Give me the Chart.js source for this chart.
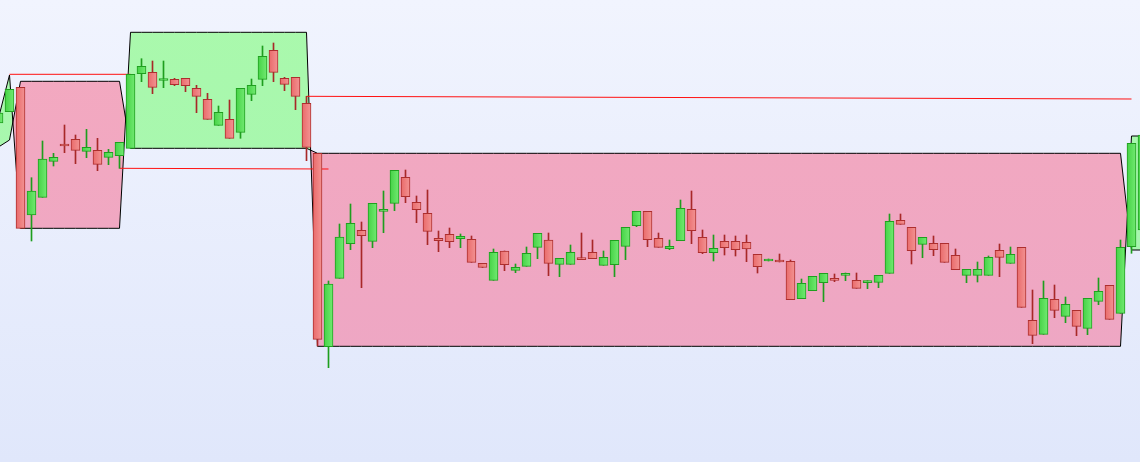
<!DOCTYPE html>
<html>
<head>
<meta charset="utf-8">
<script src="https://cdn.jsdelivr.net/npm/chart.js@4.4.1/dist/chart.umd.min.js"></script>
<style>
  html, body { margin: 0; padding: 0; }
  body {
    width: 1140px; height: 462px; overflow: hidden;
    background: linear-gradient(to bottom, #f1f4fe 0%, #e0e7fb 100%);
  }
  #wrap { position: relative; width: 1140px; height: 462px; }
</style>
</head>
<body>
<div id="wrap"><canvas id="candles" width="1140" height="462"></canvas></div>
<script>
// first candle index shown (partly cut at the left edge)
const kFirst = -1

// OHLC, one entry per candle from k = -1 to k = 103
const open = [
  339, 350.3, 374.7, 247, 264.7, 300.7, 318, 322.7, 310.7, 311.7,
  304.7, 306.3, 313.7, 388.3, 389.7, 381.5, 382.7, 383.7, 373.7, 362.7,
  336.7, 342.7, 329.7, 367.7, 382.7, 411.7, 383.7, 384.7, 358.7, 308.7,
  115.3, 183.7, 218.3, 231.7, 220.7, 250.7, 258.7, 284.7, 259.7, 248.7,
  223.7, 227.7, 223.3, 222.7, 198.7, 181.7, 211, 191.7, 195.7, 214.7,
  222, 197.7, 197.7, 204.3, 209.7, 196.7, 197.3, 215.7, 236.3, 250.7,
  223.7, 213.3, 221.3, 252.7, 224.7, 209.3, 220.7, 220.7, 219.7, 207.7,
  201, 202, 200.7, 163.3, 171.3, 179.3, 183.7, 186.7, 181.7, 179.3,
  179.7, 188.7, 241.7, 234.7, 217.7, 218.7, 218.7, 206.7, 186.7, 186.7,
  186.7, 211.7, 198.7, 214.7, 141.7, 127.7, 162.7, 145.7, 151.7, 133.7,
  160.7, 176.7, 148.7, 215.3, 232
]
const high = [
  349, 372.7, 374.7, 284.3, 321, 308.7, 337, 327, 332.7, 323.7,
  312.7, 319.7, 387.7, 403.3, 401, 401, 383.7, 383.7, 376.7, 368.7,
  356, 362, 373.7, 383, 416, 419, 384.7, 384.7, 365.7, 308.7,
  181, 238, 258, 240, 258.7, 271, 291.7, 292, 266, 272,
  231, 234, 228, 226, 198.7, 213, 211, 198, 215, 228.7,
  229, 203.7, 217, 229, 222, 211, 221.7, 234.7, 250.7, 250.7,
  229, 222, 262, 271, 232, 227, 227, 226, 227, 207.7,
  203, 208, 202, 183, 185.7, 188.7, 188, 189, 189, 181.3,
  186.7, 248, 248, 234.7, 224.7, 226, 218.7, 213, 192.7, 200,
  206, 218, 215, 214.7, 172, 181, 177, 165, 151.7, 163.7,
  184, 176.7, 222, 318.7, 327
]
const low = [
  339, 350.3, 233.7, 221, 264.7, 296, 309.3, 298.3, 304.3, 291.3,
  297.3, 293.7, 313.7, 380.3, 368.3, 374.3, 376.3, 370.3, 349.3, 342.7,
  336.7, 323.7, 323.7, 361.3, 376.3, 380.3, 371.3, 352.3, 301.3, 116,
  94.3, 183.7, 212.3, 174.3, 214.3, 229.3, 251.3, 259.3, 239.3, 217.3,
  210.3, 214.3, 214.3, 199.7, 194.5, 181.7, 191.3, 189.3, 195.7, 203.3,
  186.3, 185.3, 197.7, 202.3, 203.3, 196.7, 185.3, 202.3, 235.3, 215.3,
  214.7, 212.3, 221.3, 218.3, 208.3, 201, 207, 206, 200.3, 189,
  201, 200, 162.3, 163.3, 171.3, 160.3, 180.3, 181.3, 173.7, 173.3,
  174.3, 188.7, 237.7, 198, 204.3, 206.3, 199.7, 192.3, 179.3, 180,
  186.7, 185.3, 198.7, 154.7, 118.3, 127.7, 144.3, 139.3, 126.3, 127.3,
  157.3, 142.7, 148.7, 208.7, 232
]
const close = [
  349, 372.7, 233.7, 271, 303, 304.7, 316, 311.7, 314.7, 297.7,
  309.7, 319.7, 387.7, 395.7, 374.7, 383.5, 377.3, 376.3, 365.7, 342.7,
  349.7, 323.7, 373.7, 376.7, 405.7, 389.7, 377.7, 365.7, 314.7, 122.7,
  178, 225, 238.7, 226.3, 258.7, 252.7, 291.7, 265.3, 252.3, 230.7,
  221.3, 220.3, 225.7, 199.7, 194.5, 209.7, 197.3, 194.7, 208.7, 228.7,
  198.7, 203.7, 209.7, 202.3, 203.3, 204.7, 221.7, 234.7, 250.7, 222.3,
  214.7, 215.7, 253.7, 231.3, 209.3, 213.7, 214.3, 212.3, 213, 195.3,
  203, 200, 162.3, 178.7, 185.7, 188.7, 181.7, 188.7, 173.7, 181.3,
  186.7, 240.7, 237.7, 211.3, 224.7, 212.3, 199.7, 192.3, 192.7, 192.7,
  204.7, 204.7, 207.7, 154.7, 126.7, 163.7, 151.7, 157.7, 135.7, 163.7,
  170.7, 142.7, 214.7, 318.7, 327
]

// range boxes: first candle of each box, level on the open side, level on the close side
const boxStart = [-1, 0, 1, 11, 28, 102]
const boxOpenEdge = [315, 322, 380.7, 313.7, 308.7, 212]
const boxCloseEdge = [344, 387, 233.7, 429.7, 115.7, 326]

// red level lines: [k1, v1, k2, v2]
const levelLines = [
  [0, 387.7, 11, 387.7],
  [10, 293.7, 29, 293],
  [27, 365.7, 102, 363]
]

const ks = open.map((_, i) => i + kFirst)
const up = ks.map((_, i) => close[i] >= open[i])

function boxSeries(edge) {
  return ks.map(k => {
    let j = 0
    for (let b = 0; b < boxStart.length; b++) if (k >= boxStart[b]) j = b
    return { x: k, y: edge[j] }
  })
}

function bodyFill(c) {
  const i = c.dataIndex
  const solid = (i !== undefined && !up[i]) ? '#ee8080' : '#5ad85a'
  if (i === undefined || !c.chart.scales || !c.chart.scales.x) return solid
  const x = c.chart.scales.x.getPixelForValue(ks[i])
  if (!isFinite(x)) return solid
  const g = c.chart.ctx.createLinearGradient(x - 4.5, 0, x + 4.5, 0)
  if (up[i]) {
    g.addColorStop(0, '#45d245')
    g.addColorStop(1, '#72ea72')
  } else {
    g.addColorStop(0, '#e96a6a')
    g.addColorStop(1, '#f39393')
  }
  return g
}

const ctx = document.getElementById('candles').getContext('2d')

// soft vertical shading of the boxes
const pinkFill = ctx.createLinearGradient(0, 0, 0, 462)
pinkFill.addColorStop(0, '#f4a9bf')
pinkFill.addColorStop(1, '#eca6c5')
const greenFill = ctx.createLinearGradient(0, 0, 0, 462)
greenFill.addColorStop(0, '#aaf9ac')
greenFill.addColorStop(1, '#a4f4b2')

const datasets = [
  {
    type: 'line',
    data: boxSeries(boxOpenEdge),
    borderColor: '#000',
    borderWidth: 1,
    pointRadius: 0,
    tension: 0,
    fill: { target: '+1', above: pinkFill, below: greenFill },
    order: 10
  },
  {
    type: 'line',
    data: boxSeries(boxCloseEdge),
    borderColor: '#000',
    borderWidth: 1,
    pointRadius: 0,
    tension: 0,
    fill: false,
    order: 10
  }
]

levelLines.forEach(l => {
  datasets.push({
    type: 'line',
    data: [{ x: l[0], y: l[1] }, { x: l[2], y: l[3] }],
    borderColor: '#ff1010',
    borderWidth: 1,
    pointRadius: 0,
    fill: false,
    order: 5
  })
})

// wicks
datasets.push({
  type: 'bar',
  data: ks.map((k, i) => ({ x: k, y: [low[i], high[i]] })),
  backgroundColor: up.map(u => u ? '#1e9e1e' : '#a82828'),
  borderWidth: 0,
  barThickness: 1,
  grouped: false,
  order: 2
})

// bodies
datasets.push({
  type: 'bar',
  data: ks.map((k, i) => ({ x: k, y: [open[i], close[i]] })),
  backgroundColor: bodyFill,
  borderColor: up.map(u => u ? '#1f9f1f' : '#ad2e2e'),
  borderWidth: 1,
  borderSkipped: false,
  barThickness: 9,
  grouped: false,
  order: 1
})

new Chart(ctx, {
  type: 'line',
  data: { datasets: datasets },
  options: {
    responsive: false,
    animation: false,
    layout: { padding: 0 },
    scales: {
      x: { type: 'linear', display: false, offset: false, min: -9.5 / 11, max: (1140 - 9.5) / 11 },
      y: { type: 'linear', display: false, min: 0, max: 462 }
    },
    plugins: {
      legend: { display: false },
      tooltip: { enabled: false },
      filler: { drawTime: 'beforeDatasetsDraw' }
    }
  }
})
</script>
</body>
</html>
